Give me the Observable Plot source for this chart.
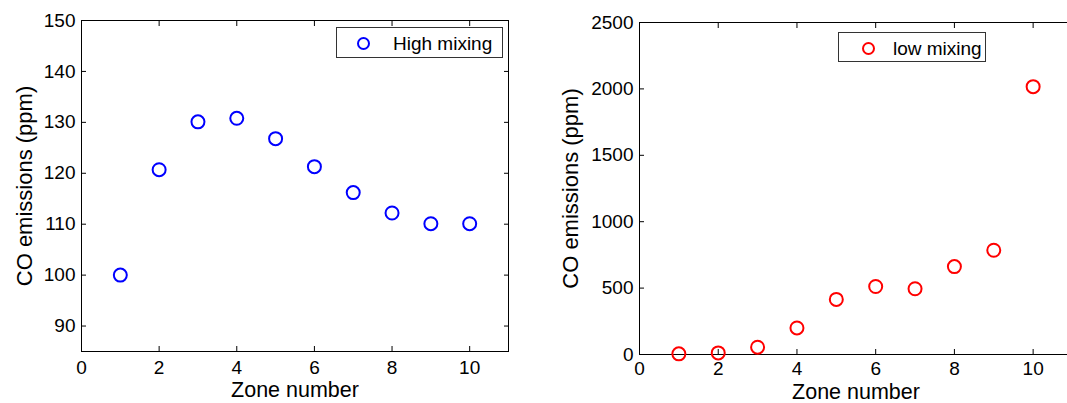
<!DOCTYPE html>
<html>
<head>
<meta charset="utf-8">
<script src="https://cdn.jsdelivr.net/npm/d3@7"></script>
<script src="https://cdn.jsdelivr.net/npm/@observablehq/plot@0.6"></script>
<style>
  html, body { margin: 0; padding: 0; background: #fff; overflow: hidden; }
  #wrap { position: relative; width: 1067px; height: 403px; overflow: hidden; font-family: "Liberation Sans", Arial, sans-serif; }
  .panel { position: absolute; top: 0; }
  .legend { position: absolute; border: 1px solid #333; background: #fff; box-sizing: border-box;
            font-family: "Liberation Sans", Arial, sans-serif; font-size: 19px; color: #000; }
  .legend .mk { position: absolute; width: 13px; height: 13px; border-radius: 50%; box-sizing: border-box; border: 2px solid; }
  .legend .lb { position: absolute; white-space: nowrap; line-height: 1; }
</style>
</head>
<body>
<div id="wrap"></div>
<script>
// ---- data ----
const zones = [1, 2, 3, 4, 5, 6, 7, 8, 9, 10];
const highMixing = [100, 120.7, 130.1, 130.8, 126.8, 121.3, 116.2, 112.2, 110.1, 110.1];
const lowMixing = [5, 12, 55, 200, 415, 512, 495, 662, 785, 2017];
const xTicks = [0, 2, 4, 6, 8, 10];
const yTicksLeft = [90, 100, 110, 120, 130, 140, 150];
const yTicksRight = [0, 500, 1000, 1500, 2000, 2500];
const xLabel = "Zone number";
const yLabel = "CO emissions (ppm)";
const seriesNames = ["High mixing", "low mixing"];
const seriesColors = ["#0000ff", "#ff0000"];

const font = "'Liberation Sans', Arial, sans-serif";
const fmt = d => String(d);

function panel({values, color, yDomain, yTicks, width, height, mL, mR, mT, mB, yLabDx, xLabDy, xPad}) {
  const data = zones.map((z, i) => ({zone: z, co: values[i]}));
  return Plot.plot({
    width, height,
    marginLeft: mL, marginRight: mR, marginTop: mT, marginBottom: mB,
    style: {fontFamily: font, color: "#000", background: "transparent", overflow: "visible"},
    x: {domain: [0, 11]},
    y: {domain: yDomain},
    marks: [
      Plot.axisX(xTicks, {anchor: "bottom", tickSize: 0, tickPadding: xPad, fontSize: 19, tickFormat: fmt, label: null}),
      Plot.axisX(xTicks, {anchor: "bottom", tickSize: -5, tickFormat: () => "", label: null}),
      Plot.axisX(xTicks, {anchor: "top", tickSize: -5, tickFormat: () => "", label: null}),
      Plot.axisY(yTicks, {anchor: "left", tickSize: 0, tickPadding: 6, fontSize: 19, tickFormat: fmt, label: null}),
      Plot.axisY(yTicks, {anchor: "left", tickSize: -5, tickFormat: () => "", label: null}),
      Plot.axisY(yTicks, {anchor: "right", tickSize: -5, tickFormat: () => "", label: null}),
      Plot.frame({stroke: "#000", strokeWidth: 1}),
      Plot.dot(data, {x: "zone", y: "co", r: 6.5, stroke: color, strokeWidth: 2, fill: "none"}),
      Plot.text([xLabel], {frameAnchor: "bottom", text: d => d, dy: xLabDy, textAnchor: "middle", lineAnchor: "middle", fontSize: 21.5, fill: "#000"}),
      Plot.text([yLabel], {frameAnchor: "left", text: d => d, dx: yLabDx, rotate: -90, textAnchor: "middle", lineAnchor: "middle", fontSize: 22, fill: "#000"})
    ]
  });
}

const wrap = document.getElementById("wrap");

const left = panel({values: highMixing, color: seriesColors[0], yDomain: [85, 150], yTicks: yTicksLeft,
  width: 530, height: 403, mL: 81, mR: 22, mT: 20, mB: 52, yLabDx: -57, xLabDy: 39, xPad: 9});
left.classList.add("panel");
left.style.left = "0px";
wrap.appendChild(left);

const right = panel({values: lowMixing, color: seriesColors[1], yDomain: [0, 2500], yTicks: yTicksRight,
  width: 545, height: 403, mL: 102, mR: 10, mT: 22, mB: 49, yLabDx: -69, xLabDy: 37.5, xPad: 7});
right.classList.add("panel");
right.style.left = "537px";
wrap.appendChild(right);

function legend(name, color, box, mk, lb) {
  const d = document.createElement("div");
  d.className = "legend";
  Object.assign(d.style, {left: box[0] + "px", top: box[1] + "px", width: box[2] + "px", height: box[3] + "px"});
  const m = document.createElement("div");
  m.className = "mk";
  Object.assign(m.style, {left: mk[0] + "px", top: mk[1] + "px", borderColor: color});
  const t = document.createElement("div");
  t.className = "lb";
  t.textContent = name;
  Object.assign(t.style, {left: lb[0] + "px", top: lb[1] + "px"});
  d.append(m, t);
  wrap.appendChild(d);
}
legend(seriesNames[0], seriesColors[0], [336, 27, 167, 31], [20, 9], [56, 6]);
legend(seriesNames[1], seriesColors[1], [838, 32, 148, 30], [23, 9], [54, 6]);
</script>
</body>
</html>
